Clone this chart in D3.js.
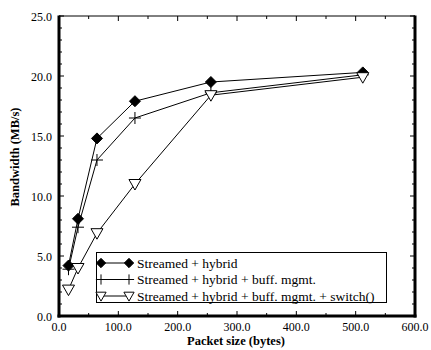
<!DOCTYPE html>
<html>
<head>
<meta charset="utf-8">
<script src="https://cdn.jsdelivr.net/npm/d3@7.9.0/dist/d3.min.js"></script>
<style>
  body { margin: 0; background: #fff; }
</style>
</head>
<body>
<svg id="chart" width="431" height="350" font-family="'Liberation Serif', 'Times New Roman', Times, serif"></svg>
<script>
// packet sizes (bytes)
const packetSizes = [16, 32, 64, 128, 256, 512];
// bandwidth per series (MB/s)
const hybrid      = [4.2, 8.1, 14.8, 17.9, 19.5, 20.3];
const buffMgmt    = [3.9, 7.4, 13.0, 16.5, 18.6, 20.1];
const switchSer   = [2.2, 4.0, 6.9, 11.0, 18.4, 19.9];
const seriesNames = ['Streamed + hybrid', 'Streamed + hybrid + buff. mgmt.', 'Streamed + hybrid + buff. mgmt. + switch()'];
const xTicks = [0, 100, 200, 300, 400, 500, 600];
const yTicks = [0, 5, 10, 15, 20, 25];

const svg = d3.select('#chart');
const pL = 59, pR = 415, pT = 16, pB = 316;
const FONT = "'Liberation Serif', 'Times New Roman', Times, serif";

const x = d3.scaleLinear().domain([0, 600]).range([pL, pR]);
const y = d3.scaleLinear().domain([0, 25]).range([pB, pT]);

// --- ticks (inward, all four sides)
const g = svg.append('g');
d3.range(0, 601, 50).forEach(v => {
  const len = v % 100 === 0 ? 5 : 3;
  g.append('line').attr('x1', x(v)).attr('x2', x(v)).attr('y1', pB).attr('y2', pB - len).attr('stroke', '#000');
  g.append('line').attr('x1', x(v)).attr('x2', x(v)).attr('y1', pT).attr('y2', pT + len).attr('stroke', '#000');
});
d3.range(0, 26, 1).forEach(v => {
  const len = v % 5 === 0 ? 5 : 3;
  g.append('line').attr('y1', y(v)).attr('y2', y(v)).attr('x1', pL).attr('x2', pL + len).attr('stroke', '#000');
  g.append('line').attr('y1', y(v)).attr('y2', y(v)).attr('x1', pR).attr('x2', pR - len).attr('stroke', '#000');
});

// frame: thin top, thick left/bottom/right
g.append('line').attr('x1', pL).attr('x2', pR).attr('y1', pT).attr('y2', pT).attr('stroke', '#000').attr('stroke-width', 1);
g.append('line').attr('x1', pL).attr('x2', pL).attr('y1', pT - 0.5).attr('y2', pB + 1.5).attr('stroke', '#000').attr('stroke-width', 3);
g.append('line').attr('x1', pR).attr('x2', pR).attr('y1', pT - 0.5).attr('y2', pB + 1.5).attr('stroke', '#000').attr('stroke-width', 3);
g.append('line').attr('x1', pL - 1.5).attr('x2', pR + 1.5).attr('y1', pB).attr('y2', pB).attr('stroke', '#000').attr('stroke-width', 3);

// tick labels
svg.selectAll('text.xt').data(xTicks).join('text')
  .attr('class', 'xt').attr('x', d => x(d)).attr('y', 331)
  .attr('text-anchor', 'middle').attr('font-size', 12).attr('font-family', FONT)
  .text(d => d.toFixed(1));
svg.selectAll('text.yt').data(yTicks).join('text')
  .attr('class', 'yt').attr('x', 52).attr('y', d => y(d) + 4.5)
  .attr('text-anchor', 'end').attr('font-size', 12).attr('font-family', FONT)
  .text(d => d.toFixed(1));

// axis titles
svg.append('text').attr('x', 236).attr('y', 345).attr('text-anchor', 'middle').attr('font-family', FONT)
  .attr('font-size', 12.5).attr('font-weight', 'bold').text('Packet size (bytes)');
svg.append('text').attr('transform', 'translate(19,157) rotate(-90)').attr('text-anchor', 'middle').attr('font-family', FONT)
  .attr('font-size', 12.5).attr('font-weight', 'bold').text('Bandwidth (MB/s)');

// markers
const diamond = 'M0,-5.5L5.5,0L0,5.5L-5.5,0Z';
const plus = 'M-6,0H6M0,-6V6';
const tri = 'M-6,-4.5H6L0,6Z';
const markers = [
  { path: diamond, fill: '#000' },
  { path: plus, fill: 'none' },
  { path: tri, fill: '#fff' }
];
const allSeries = [hybrid, buffMgmt, switchSer];
const line = d3.line().x((d, i) => x(packetSizes[i])).y(d => y(d));

allSeries.forEach((vals, s) => {
  svg.append('path').attr('d', line(vals)).attr('fill', 'none').attr('stroke', '#000').attr('stroke-width', 1);
});
allSeries.forEach((vals, s) => {
  svg.append('g').selectAll('path').data(vals).join('path')
    .attr('transform', (d, i) => `translate(${x(packetSizes[i])},${y(d)})`)
    .attr('d', markers[s].path).attr('fill', markers[s].fill)
    .attr('stroke', '#000').attr('stroke-width', 1);
});

// legend
const lg = svg.append('g');
lg.append('rect').attr('x', 96.5).attr('y', 252.5).attr('width', 290).attr('height', 50)
  .attr('fill', '#fff').attr('stroke', '#000').attr('stroke-width', 1);
seriesNames.forEach((name, s) => {
  const ry = 263 + s * 16.5;
  lg.append('line').attr('x1', 101).attr('x2', 129).attr('y1', ry).attr('y2', ry).attr('stroke', '#000');
  [101, 129].forEach(px => lg.append('path').attr('transform', `translate(${px},${ry}) scale(0.85)`)
    .attr('d', markers[s].path).attr('fill', markers[s].fill).attr('stroke', '#000').attr('stroke-width', 1.15));
  lg.append('text').attr('x', 137).attr('y', ry + 4.5).attr('font-size', 13.5).attr('font-family', FONT).text(name);
});
</script>
</body>
</html>
